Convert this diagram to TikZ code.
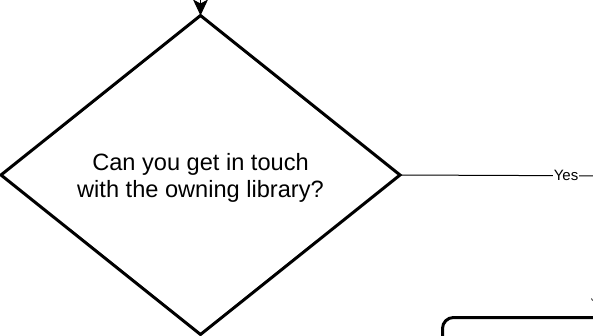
\documentclass[tikz,border=0pt]{standalone}
\usepackage{fontspec}
\setmainfont{Liberation Sans}
\usetikzlibrary{shapes.geometric,arrows.meta}
\tikzset{
  decision/.style={draw, diamond, line width=3pt, outer sep=0pt, inner sep=0pt,
    minimum width=399pt, minimum height=319pt, aspect=1.26},
  decisiontext/.style={align=center, inner sep=0pt, font=\fontsize{23.6pt}{27pt}\selectfont},
  procbox/.style={draw, rectangle, rounded corners=11pt, line width=3pt,
    minimum width=300pt, minimum height=100pt, anchor=north west},
  conn/.style={line width=1pt},
  arrowconn/.style={conn, -{Stealth[length=16pt,width=15pt,inset=4pt]}},
  edgelabel/.style={fill=white, inner sep=1pt, font=\fontsize{15pt}{17pt}\selectfont}
}
\begin{document}
\begin{tikzpicture}[x=1pt,y=-1pt]
\useasboundingbox (0,0) rectangle (593,335);
\clip (0,0) rectangle (593,335);
\coordinate (in) at (200.5,-10);
\node[decision] (q) at (200.5,175) {};
\node[decisiontext] (qt) at (200.5,178) {Can you get in touch\\with the owning library?};
\coordinate (yesend) at (640,176);
\node[procbox] (box) at (441,316) {};
\draw[arrowconn] (in) -- (q.north);
\draw[conn] (q.east) -- node[edgelabel, pos=0.692] {Yes} (yesend);
\coordinate (m1) at (591.5,298.5);
\coordinate (m2) at (592.5,300.5);
\draw[line width=0.8pt] (m1) -- (m2);
\end{tikzpicture}
\end{document}
